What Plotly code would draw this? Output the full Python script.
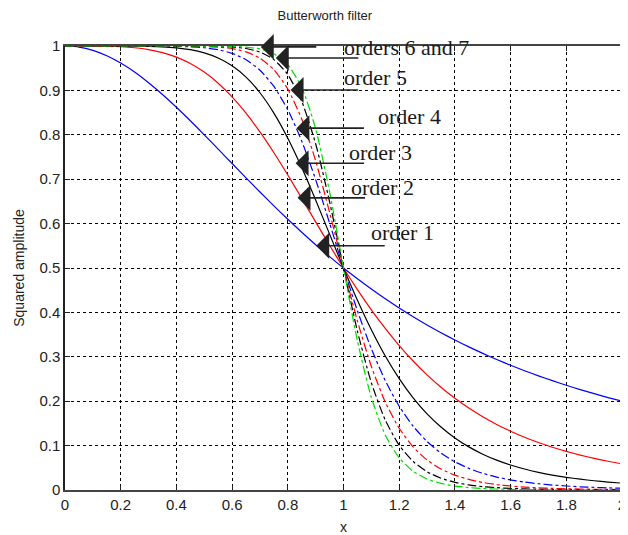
import plotly.graph_objects as go

# x grid (values at these x positions)
x_vals = [0, 0.05, 0.1, 0.15, 0.2, 0.25, 0.3, 0.35, 0.4, 0.45, 0.5, 0.55, 0.6, 0.65, 0.7,
          0.75, 0.8, 0.85, 0.9, 0.95, 1.0, 1.05, 1.1, 1.15, 1.2, 1.25, 1.3, 1.35, 1.4, 1.45,
          1.5, 1.55, 1.6, 1.65, 1.7, 1.75, 1.8, 1.85, 1.9, 1.95, 2.0]

order1 = [1.0, 0.9975, 0.9901, 0.978, 0.9615, 0.9412, 0.9174, 0.8909, 0.8621, 0.8316, 0.8,
          0.7678, 0.7353, 0.703, 0.6711, 0.64, 0.6098, 0.5806, 0.5525, 0.5256, 0.5,
          0.4756, 0.4525, 0.4306, 0.4098, 0.3902, 0.3717, 0.3543, 0.3378, 0.3223, 0.3077,
          0.2939, 0.2809, 0.2686, 0.2571, 0.2462, 0.2358, 0.2261, 0.2169, 0.2082, 0.2]
order2 = [1.0, 1.0, 0.9999, 0.9995, 0.9984, 0.9961, 0.992, 0.9852, 0.975, 0.9606, 0.9412,
          0.9162, 0.8853, 0.8486, 0.8064, 0.7596, 0.7095, 0.657, 0.6038, 0.5511, 0.5,
          0.4514, 0.4058, 0.3638, 0.3254, 0.2906, 0.2593, 0.2314, 0.2065, 0.1845, 0.1649,
          0.1477, 0.1324, 0.1189, 0.1069, 0.0963, 0.087, 0.0787, 0.0713, 0.0647, 0.0588]
order3 = [1.0, 1.0, 1.0, 1.0, 0.9999, 0.9998, 0.9993, 0.9982, 0.9959, 0.9918, 0.9846,
          0.9731, 0.9554, 0.9299, 0.8947, 0.8489, 0.7923, 0.7261, 0.653, 0.5763, 0.5,
          0.4273, 0.3608, 0.3018, 0.2509, 0.2077, 0.1716, 0.1418, 0.1172, 0.0971, 0.0807,
          0.0673, 0.0563, 0.0472, 0.0398, 0.0336, 0.0286, 0.0243, 0.0208, 0.0179, 0.0154]
order4 = [1.0, 1.0, 1.0, 1.0, 1.0, 1.0, 0.9999, 0.9998, 0.9993, 0.9983, 0.9961,
          0.9917, 0.9835, 0.9691, 0.9455, 0.909, 0.8563, 0.7859, 0.6991, 0.6012, 0.5,
          0.4036, 0.3181, 0.2464, 0.1887, 0.1437, 0.1092, 0.0831, 0.0635, 0.0487, 0.0376,
          0.0291, 0.0228, 0.0179, 0.0141, 0.0112, 0.009, 0.0072, 0.0059, 0.0048, 0.0039]
order5 = [1.0, 1.0, 1.0, 1.0, 1.0, 1.0, 1.0, 1.0, 0.9999, 0.9997, 0.999,
          0.9975, 0.994, 0.9867, 0.9725, 0.9467, 0.903, 0.8355, 0.7415, 0.6255, 0.5,
          0.3804, 0.2783, 0.1982, 0.139, 0.097, 0.0676, 0.0474, 0.0334, 0.0238, 0.017,
          0.0123, 0.009, 0.0066, 0.0049, 0.0037, 0.0028, 0.0021, 0.0016, 0.0013, 0.001]
order6 = [1.0, 1.0, 1.0, 1.0, 1.0, 1.0, 1.0, 1.0, 1.0, 0.9999, 0.9998,
          0.9992, 0.9978, 0.9943, 0.9863, 0.9693, 0.9357, 0.8755, 0.7798, 0.6492, 0.5,
          0.3577, 0.2416, 0.1575, 0.1008, 0.0643, 0.0412, 0.0266, 0.0173, 0.0114, 0.0076,
          0.0052, 0.0035, 0.0025, 0.0017, 0.0012, 0.0009, 0.0006, 0.0005, 0.0003, 0.0002]
order7 = [1.0, 1.0, 1.0, 1.0, 1.0, 1.0, 1.0, 1.0, 1.0, 1.0, 0.9999,
          0.9998, 0.9992, 0.9976, 0.9933, 0.9825, 0.9579, 0.9068, 0.8138, 0.6722, 0.5,
          0.3356, 0.2084, 0.1238, 0.0723, 0.0421, 0.0248, 0.0148, 0.0089, 0.0055, 0.0034,
          0.0022, 0.0014, 0.0009, 0.0006, 0.0004, 0.0003, 0.0002, 0.0001, 0.0001, 0.0001]

series = [order1, order2, order3, order4, order5, order6, order7]
series_names = ["order 1", "order 2", "order 3", "order 4", "order 5", "order 6", "order 7"]
colors = ["#0000ff", "#ff0000", "#000000", "#0000ff", "#ff0000", "#000000", "#00dd00"]
dashes = ["solid", "solid", "solid", "dashdot", "dashdot", "dashdot", "dashdot"]

x_ticks = [0, 0.2, 0.4, 0.6, 0.8, 1, 1.2, 1.4, 1.6, 1.8, 2]
x_ticktext = ["0", "0.2", "0.4", "0.6", "0.8", "1", "1.2", "1.4", "1.6", "1.8", "2"]
y_ticks = [0, 0.1, 0.2, 0.3, 0.4, 0.5, 0.6, 0.7, 0.8, 0.9, 1]
y_ticktext = ["0", "0.1", "0.2", "0.3", "0.4", "0.5", "0.6", "0.7", "0.8", "0.9", "1"]

# annotation labels: text, left x, centre y (data units)
label_texts = ["orders 6 and 7", "order 5", "order 4", "order 3", "order 2", "order 1"]
label_x = [0.995, 0.995, 1.115, 1.012, 1.019, 1.090]
label_y = [0.997, 0.928, 0.842, 0.761, 0.682, 0.579]
# arrows: tip (data units) and tail length (px)
arrow_x = [0.703, 0.757, 0.810, 0.831, 0.828, 0.835, 0.902]
arrow_y = [0.998, 0.973, 0.901, 0.815, 0.736, 0.658, 0.550]
arrow_len = [57, 84, 69, 69, 70, 69, 70]

fig = go.Figure()
for ys, nm, c, d in zip(series, series_names, colors, dashes):
    fig.add_trace(go.Scatter(x=x_vals, y=ys, mode="lines", name=nm,
                             line=dict(color=c, width=1.2, dash=d, shape="spline", smoothing=0.6)))

annotations = []
for t, lx, ly in zip(label_texts, label_x, label_y):
    annotations.append(dict(x=lx, y=ly, xref="x", yref="y", text=t, showarrow=False,
                            xanchor="left", yanchor="middle",
                            font=dict(family="Liberation Serif, Times New Roman, serif",
                                      size=22, color="#1a1a1a")))
for axp, ayp, ln in zip(arrow_x, arrow_y, arrow_len):
    annotations.append(dict(x=axp, y=ayp, xref="x", yref="y", text="", showarrow=True,
                            ax=ln, ay=0, arrowhead=1, arrowsize=2.7, arrowwidth=1.6,
                            arrowcolor="#222222"))

# the page body has an 8px default margin, so the figure is drawn at (8, 8)
fig.update_layout(
    width=620, height=527,
    margin=dict(l=57, r=2, t=38, b=45),
    paper_bgcolor="white", plot_bgcolor="white",
    showlegend=False,
    font=dict(family="Liberation Sans, Arial, sans-serif", size=15, color="#222222"),
    title=dict(text="Butterworth filter", x=0.511, xanchor="center", y=0.9867, yanchor="middle",
               font=dict(size=13, color="#222222")),
    annotations=annotations,
)
fig.update_xaxes(range=[0, 2], tickvals=x_ticks, ticktext=x_ticktext,
                 ticklabeloverflow="allow",
                 showgrid=True, gridcolor="#000000", griddash="dot", gridwidth=1,
                 zeroline=False, showline=True, linecolor="#444444", linewidth=2,
                 mirror="ticks", ticks="inside", ticklen=5, tickcolor="#222222",
                 title=dict(text="x", font=dict(size=14), standoff=10))
fig.update_yaxes(range=[0, 1], tickvals=y_ticks, ticktext=y_ticktext,
                 showgrid=True, gridcolor="#000000", griddash="dot", gridwidth=1,
                 zeroline=False, showline=True, linecolor="#222222", linewidth=1.5,
                 mirror=False, ticks="inside", ticklen=5, tickcolor="#222222",
                 title=dict(text="Squared amplitude", font=dict(size=14), standoff=11))

fig.write_html("out.html")
